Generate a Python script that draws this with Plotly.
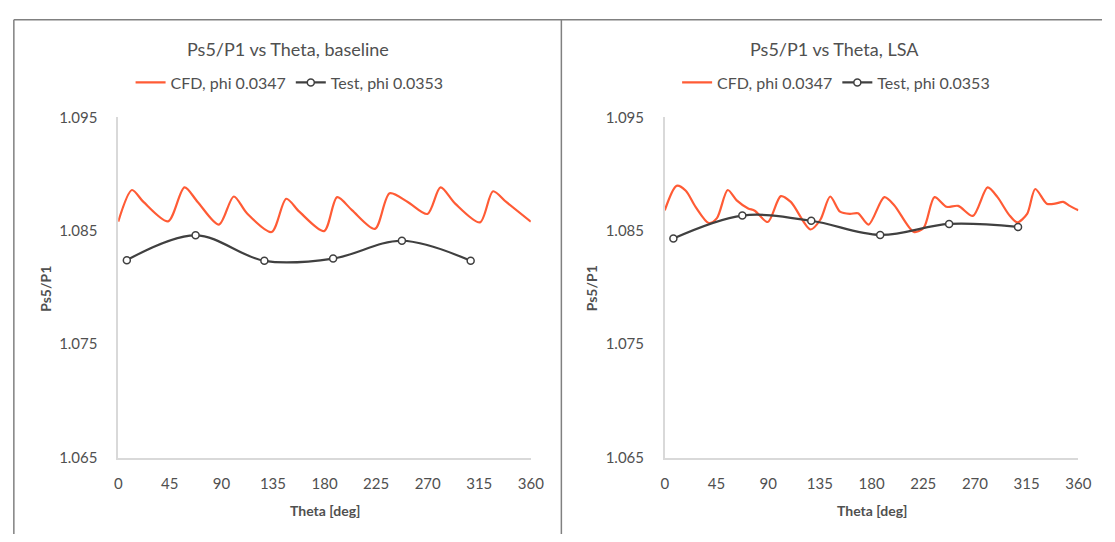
import plotly.graph_objects as go

# ---- data ----
cfd_base_theta = [0, 12, 22, 43.5, 57.8, 69.3, 87.9, 100.8, 112.3, 133.8, 146.6, 158, 179.6,
                  191, 203.9, 224, 236.8, 252.6, 269.8, 281.2, 294, 315.6, 327, 338.5, 360]
cfd_base_val = [1.0858, 1.08859, 1.08754, 1.08583, 1.08882, 1.08754, 1.08554, 1.08802, 1.08654,
                1.08489, 1.08782, 1.08668, 1.08497, 1.08796, 1.08682, 1.08517, 1.0883, 1.08754,
                1.08648, 1.08882, 1.08739, 1.08574, 1.08848, 1.08754, 1.0858]

test_base_theta = [7.5, 67.5, 127.5, 187.5, 247.5, 307.5]
test_base_val = [1.08241, 1.0846, 1.08235, 1.08255, 1.08412, 1.08235]

cfd_lsa_theta = [0, 10.3, 18.3, 26.8, 38.3, 45.4, 54.8, 62.6, 72.6, 78.3, 89.7, 101, 109.7,
                 126.8, 135.4, 144, 152.5, 161.1, 168.2, 177.4, 191.1, 199.7, 216.8, 225.4,
                 234.8, 245.3, 255.4, 268.2, 281, 289.6, 299.7, 306.8, 315.4, 322.5, 332.5,
                 339.6, 346.8, 352.5, 360]
cfd_lsa_val = [1.0868, 1.08896, 1.08853, 1.08711, 1.08568, 1.08611, 1.08859, 1.08768, 1.08697,
               1.08677, 1.08577, 1.08805, 1.08754, 1.08511, 1.08597, 1.08802, 1.08668, 1.08648,
               1.08654, 1.08554, 1.08796, 1.08725, 1.08489, 1.08526, 1.08796, 1.08711, 1.08719,
               1.08631, 1.08882, 1.08796, 1.0864, 1.08574, 1.08648, 1.08868, 1.08739, 1.08739,
               1.08754, 1.08719, 1.0868]

test_lsa_theta = [7.5, 67.5, 127.5, 187.5, 247.5, 307.5]
test_lsa_val = [1.08432, 1.08634, 1.08588, 1.08463, 1.0856, 1.08534]

titles = ["Ps5/P1 vs Theta, baseline", "Ps5/P1 vs Theta, LSA"]
cfd_name = "CFD, phi 0.0347"
test_name = "Test, phi 0.0353"
x_ticks = [0, 45, 90, 135, 180, 225, 270, 315, 360]
y_ticks = [1.065, 1.075, 1.085, 1.095]

# ---- style ----
W, H = 1115, 542
FONT = "Lato, 'Open Sans', sans-serif"
TXT = "#505050"
CFD_COL = "#FF5B35"
TEST_COL = "#404040"
AX_COL = "#D9D9D9"
FRAME = "#808080"

def px_x(x):
    return x / W

def px_y(y):
    return 1 - y / H

fig = go.Figure()

panels = [
    dict(cfd=(cfd_base_theta, cfd_base_val), test=(test_base_theta, test_base_val),
         xd=(116, 535), cx=288, ylab_x=42, xa="x", ya="y", leg="legend"),
    dict(cfd=(cfd_lsa_theta, cfd_lsa_val), test=(test_lsa_theta, test_lsa_val),
         xd=(671, 1091), cx=843, ylab_x=597, xa="x2", ya="y2", leg="legend2"),
]

annotations = []
for i, p in enumerate(panels):
    fig.add_trace(go.Scatter(x=p["cfd"][0], y=p["cfd"][1], mode="lines", name=cfd_name,
                             line=dict(color=CFD_COL, width=2.2, shape="spline", smoothing=0.8),
                             xaxis=p["xa"], yaxis=p["ya"], legend=p["leg"]))
    fig.add_trace(go.Scatter(x=p["test"][0], y=p["test"][1], mode="lines+markers", name=test_name,
                             line=dict(color=TEST_COL, width=2.2, shape="spline", smoothing=1),
                             marker=dict(symbol="circle", size=7, color="white",
                                         line=dict(color=TEST_COL, width=1.5)),
                             xaxis=p["xa"], yaxis=p["ya"], legend=p["leg"]))
    annotations.append(dict(text=titles[i], x=px_x(p["cx"]), y=px_y(40), xref="paper", yref="paper",
                            showarrow=False, xanchor="center", yanchor="middle",
                            font=dict(family=FONT, size=18, color=TXT)))
    annotations.append(dict(text="<b>Theta [deg]</b>", x=px_x((p["xd"][0] + p["xd"][1]) / 2),
                            y=px_y(518), xref="paper", yref="paper", showarrow=False,
                            xanchor="center", yanchor="middle",
                            font=dict(family=FONT, size=14, color=TXT)))
    annotations.append(dict(text="<b>Ps5/P1</b>", x=px_x(p["ylab_x"]), y=px_y(288), xref="paper",
                            yref="paper", showarrow=False, textangle=-90,
                            xanchor="center", yanchor="middle",
                            font=dict(family=FONT, size=14, color=TXT)))

axis_common = dict(showgrid=False, zeroline=False, showline=True, linecolor=AX_COL, linewidth=1.5,
                   ticks="", tickfont=dict(family=FONT, size=15, color=TXT))
ydom = [px_y(463), px_y(111)]
fig.update_layout(
    width=W, height=H, margin=dict(l=0, r=0, t=0, b=0),
    paper_bgcolor="white", plot_bgcolor="white",
    xaxis=dict(domain=[px_x(116), px_x(535)], range=[0, 360], tickvals=x_ticks, anchor="y",
               ticklabelstandoff=12, **axis_common),
    yaxis=dict(domain=ydom, range=[1.065, 1.095], tickvals=y_ticks, tickformat=".3f", anchor="x",
               ticklabelstandoff=16, **axis_common),
    xaxis2=dict(domain=[px_x(671), px_x(1091)], range=[0, 360], tickvals=x_ticks, anchor="y2",
                ticklabelstandoff=12, **axis_common),
    yaxis2=dict(domain=ydom, range=[1.065, 1.095], tickvals=y_ticks, tickformat=".3f", anchor="x2",
                ticklabelstandoff=16, **axis_common),
    legend=dict(orientation="h", x=px_x(290), y=px_y(75), xanchor="center", yanchor="middle",
                font=dict(family=FONT, size=16, color=TXT), bgcolor="rgba(0,0,0,0)",
                itemwidth=30, tracegroupgap=0),
    legend2=dict(orientation="h", x=px_x(845), y=px_y(75), xanchor="center", yanchor="middle",
                 font=dict(family=FONT, size=16, color=TXT), bgcolor="rgba(0,0,0,0)",
                 itemwidth=30, tracegroupgap=0),
    annotations=annotations,
    showlegend=True,
    shapes=[
        dict(type="line", xref="paper", yref="paper", x0=px_x(10), x1=1, y0=px_y(10), y1=px_y(10),
             line=dict(color=FRAME, width=1.5)),
        dict(type="line", xref="paper", yref="paper", x0=px_x(10), x1=px_x(10), y0=px_y(10), y1=0,
             line=dict(color=FRAME, width=1.5)),
        dict(type="line", xref="paper", yref="paper", x0=px_x(566), x1=px_x(566), y0=px_y(10), y1=0,
             line=dict(color=FRAME, width=1.5)),
    ],
)

fig.write_html("out.html")
